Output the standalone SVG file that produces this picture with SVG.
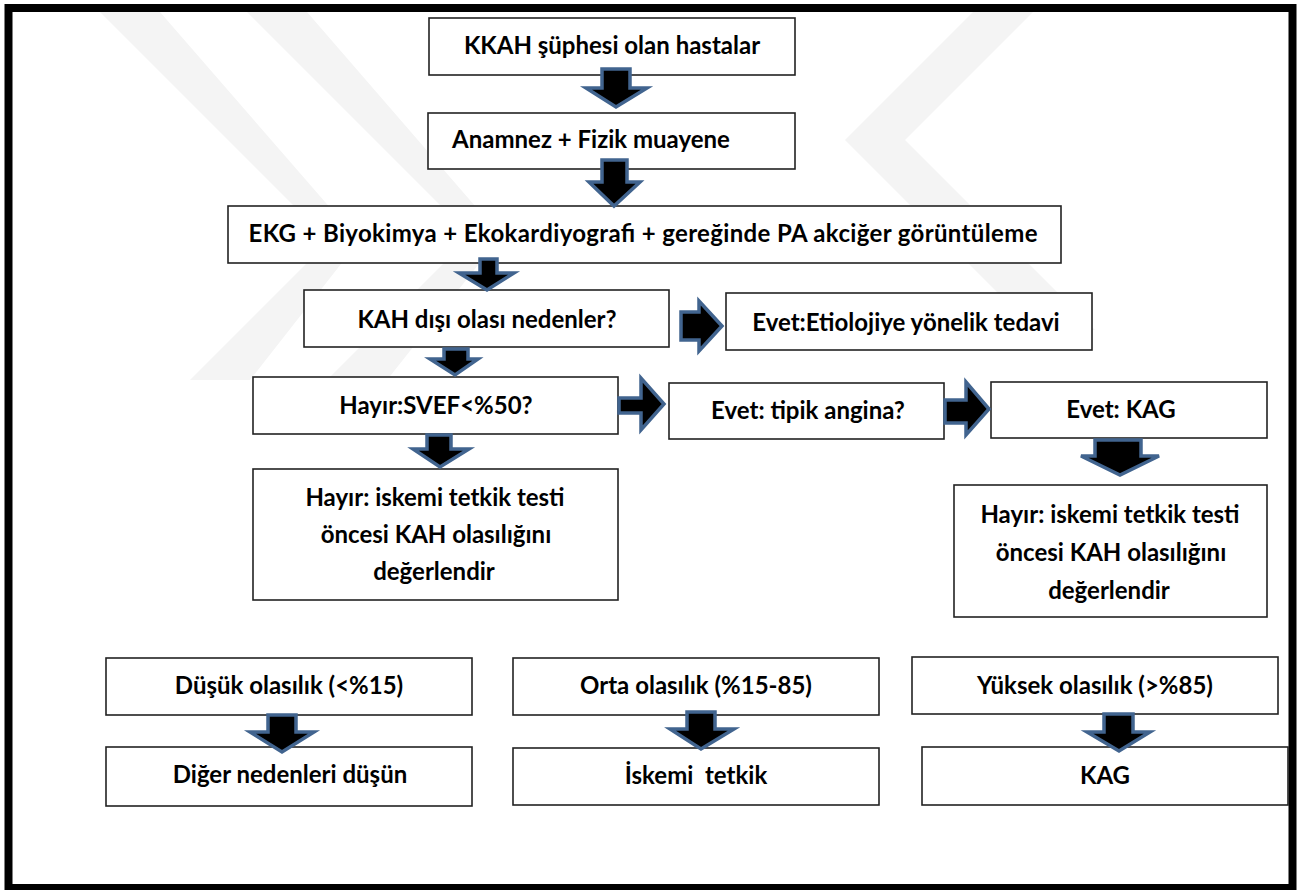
<svg xmlns="http://www.w3.org/2000/svg" width="1307" height="890" viewBox="0 0 1307 890">
<style>
.wm{fill:#f4f4f4}
.box{fill:#fff;stroke:#222;stroke-width:1.6}
.t{font-family:Lato,"Open Sans","Liberation Sans",sans-serif;font-weight:700;font-size:24px;fill:#000;text-anchor:middle;white-space:pre}
.arr{fill:#000;stroke:#41648f;stroke-width:3.5;stroke-linejoin:miter}
</style>
<rect x="0" y="0" width="1307" height="890" fill="#fff"/>
<g id="watermark">
<polygon class="wm" points="100,12 160,12 359,241 250,380 190,380 329,241"/>
<polygon class="wm" points="247,12 307,12 501,236 387,380 327,380 471,236"/>
<polygon class="wm" points="973,12 1033,12 905,140 1095,330 1035,330 845,140"/>
</g>
<rect id="frame" x="8.5" y="8" width="1284" height="880" fill="none" stroke="#000" stroke-width="8"/>
<g id="nodes">
<g id="n1"><rect class="box" x="429" y="18" width="366" height="57"/><text class="t" x="612" y="54">KKAH şüphesi olan hastalar</text></g>
<g id="n2"><rect class="box" x="428" y="113" width="367" height="56"/><text class="t" x="591" y="148">Anamnez + Fizik muayene</text></g>
<g id="n3"><rect class="box" x="228" y="206" width="833" height="57"/><text class="t" x="643" y="242" textLength="789">EKG + Biyokimya + Ekokardiyografi + gereğinde PA akciğer görüntüleme</text></g>
<g id="n4"><rect class="box" x="304" y="290" width="365" height="57"/><text class="t" x="487" y="328">KAH dışı olası nedenler?</text></g>
<g id="n5"><rect class="box" x="726" y="293" width="366" height="57"/><text class="t" x="906" y="331">Evet:Etiolojiye yönelik tedavi</text></g>
<g id="n6"><rect class="box" x="253" y="377" width="365" height="57"/><text class="t" x="436" y="414">Hayır:SVEF&lt;%50?</text></g>
<g id="n7"><rect class="box" x="669" y="383" width="275" height="56"/><text class="t" x="808" y="419">Evet: tipik angina?</text></g>
<g id="n8"><rect class="box" x="991" y="382" width="276" height="56"/><text class="t" x="1121" y="418">Evet: KAG</text></g>
<g id="n9"><rect class="box" x="253" y="469" width="365" height="131"/>
<text class="t" x="435" y="506">Hayır: iskemi tetkik testi</text>
<text class="t" x="436" y="543">öncesi KAH olasılığını</text>
<text class="t" x="434" y="580">değerlendir</text></g>
<g id="n10"><rect class="box" x="954" y="485" width="313" height="132"/>
<text class="t" x="1110" y="523">Hayır: iskemi tetkik testi</text>
<text class="t" x="1111" y="561">öncesi KAH olasılığını</text>
<text class="t" x="1109" y="599">değerlendir</text></g>
<g id="n11"><rect class="box" x="106" y="658" width="366" height="57"/><text class="t" x="289" y="694">Düşük olasılık (&lt;%15)</text></g>
<g id="n12"><rect class="box" x="106" y="747" width="366" height="59"/><text class="t" x="290" y="783">Diğer nedenleri düşün</text></g>
<g id="n13"><rect class="box" x="513" y="658" width="366" height="57"/><text class="t" x="696" y="694">Orta olasılık (%15-85)</text></g>
<g id="n14"><rect class="box" x="513" y="748" width="366" height="57"/><text class="t" x="696" y="784" xml:space="preserve">İskemi  tetkik</text></g>
<g id="n15"><rect class="box" x="912" y="657" width="366" height="57"/><text class="t" x="1095" y="694">Yüksek olasılık (&gt;%85)</text></g>
<g id="n16"><rect class="box" x="922" y="747" width="366" height="58"/><text class="t" x="1105" y="784">KAG</text></g>
</g>
<g id="connectors">
<polygon class="arr" points="602,69 630,69 630,88 647,88 616,107 586,88 602,88"/>
<polygon class="arr" points="602,160 627,160 627,182 640,182 614,206 589,182 602,182"/>
<polygon class="arr" points="480,259 497,259 497,273 514,273 487,290 459,273 480,273"/>
<polygon class="arr" points="444,349 468,349 468,359 478,359 455,375 430,359 444,359"/>
<polygon class="arr" points="427,435 451,435 451,449 469,449 440,467 413,449 427,449"/>
<polygon class="arr" points="681,312 699,312 699,301 722,326 699,351 699,340 681,340"/>
<polygon class="arr" points="619,398 641,398 641,378 664,404 641,430 641,413 619,413"/>
<polygon class="arr" points="945,400 966,400 966,382 989,409 966,435 966,423 945,423"/>
<polygon class="arr" points="1095,440 1141,440 1141,456 1159,456 1120,475 1081,456 1095,456"/>
<polygon class="arr" points="268,715 296,715 296,732 314,732 282,752 250,732 268,732"/>
<polygon class="arr" points="687,712 715,712 715,729 734,729 701,749 670,729 687,729"/>
<polygon class="arr" points="1104,714 1133,714 1133,732 1150,732 1119,751 1087,732 1104,732"/>
</g>
</svg>
